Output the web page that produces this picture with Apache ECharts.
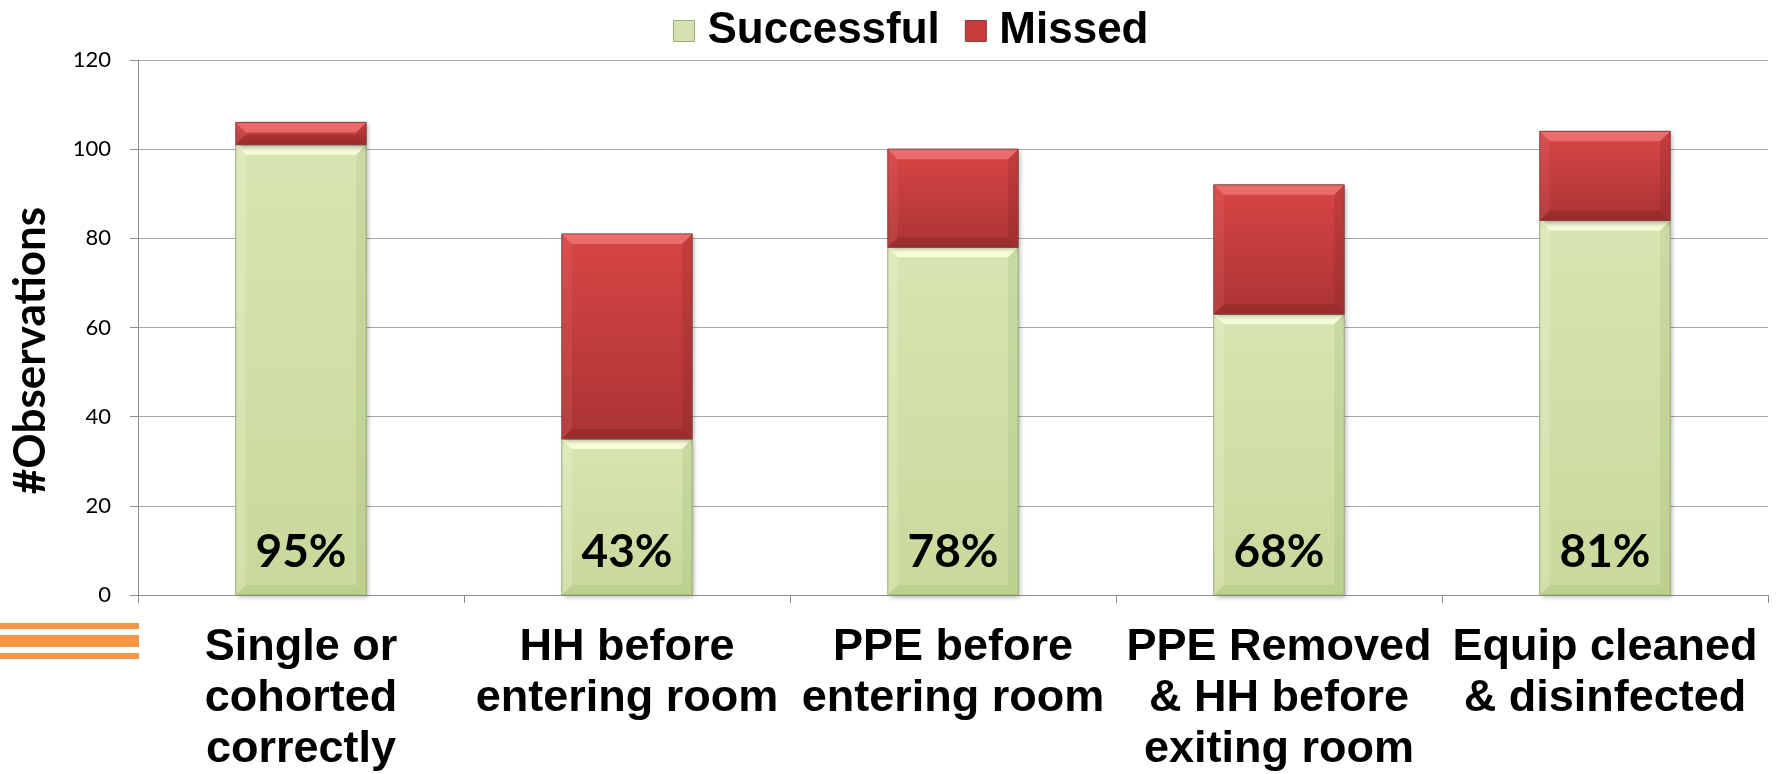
<!DOCTYPE html>
<html>
<head>
<meta charset="utf-8">
<script src="https://cdn.jsdelivr.net/npm/echarts@6/dist/echarts.min.js"></script>
<style>
  html, body { margin: 0; padding: 0; background: #fff; }
  #chart { width: 1777px; height: 774px; }
</style>
</head>
<body>
<div id="chart"></div>
<script>
const categories = [
  'Single or\ncohorted\ncorrectly',
  'HH before\nentering room',
  'PPE before\nentering room',
  'PPE Removed\n& HH before\nexiting room',
  'Equip cleaned\n& disinfected'
]
const successful = [101, 35, 78, 63, 84]
const missed = [5, 46, 22, 29, 20]
const yMin = 0
const yMax = 120
const yStep = 20

const GREEN = {
  body: ['#D7E5B2', '#C8D99B'],
  top: 'rgba(250,255,220,0.9)',
  bottom: 'rgba(150,175,100,0.22)',
  left: 'rgba(255,255,235,0.2)',
  right: 'rgba(140,165,95,0.18)',
  stroke: '#9AAE78'
}
const RED = {
  body: ['#D84545', '#AC3434'],
  top: 'rgba(255,140,140,0.55)',
  bottom: 'rgba(90,20,20,0.22)',
  left: 'rgba(255,150,150,0.12)',
  right: 'rgba(90,20,20,0.15)',
  stroke: '#7E4040'
}

// draws one bevelled bar segment between value(1) and value(2)
const bevelBar = (api, pal, label) => {
  const i = api.value(0)
  const p0 = api.coord([i, api.value(1)])
  const p1 = api.coord([i, api.value(2)])
  const w = api.size([1, 0])[0] * 0.4
  const x0 = p0[0] - w / 2
  const x1 = x0 + w
  const yb = p0[1]
  const yt = p1[1]
  const h = yb - yt
  const b = Math.min(10, h / 2)
  const children = [
    {
      type: 'rect',
      shape: { x: x0, y: yt, width: w, height: h },
      style: {
        fill: new echarts.graphic.LinearGradient(0, 0, 0, 1, [
          { offset: 0, color: pal.body[0] },
          { offset: 1, color: pal.body[1] }
        ]),
        shadowBlur: 5,
        shadowOffsetX: 2,
        shadowOffsetY: 2,
        shadowColor: 'rgba(0,0,0,0.35)'
      }
    },
    { type: 'polygon', shape: { points: [[x0, yt], [x1, yt], [x1 - b, yt + b], [x0 + b, yt + b]] }, style: { fill: pal.top } },
    { type: 'polygon', shape: { points: [[x0, yb], [x1, yb], [x1 - b, yb - b], [x0 + b, yb - b]] }, style: { fill: pal.bottom } },
    { type: 'polygon', shape: { points: [[x0, yt], [x0 + b, yt + b], [x0 + b, yb - b], [x0, yb]] }, style: { fill: pal.left } },
    { type: 'polygon', shape: { points: [[x1, yt], [x1 - b, yt + b], [x1 - b, yb - b], [x1, yb]] }, style: { fill: pal.right } },
    {
      type: 'rect',
      shape: { x: x0, y: yt, width: w, height: h },
      style: { fill: 'none', stroke: pal.stroke, lineWidth: 1 }
    }
  ]
  if (label) {
    children.push({
      type: 'text',
      x: p0[0],
      y: yb - 20,
      style: {
        text: label,
        font: 'bold 46px Lato',
        fill: '#000',
        align: 'center',
        verticalAlign: 'bottom'
      }
    })
  }
  return { type: 'group', children }
}

const pct = successful.map((s, i) => Math.round(s / (s + missed[i]) * 100) + '%')

const chart = echarts.init(document.getElementById('chart'))

const option = {
  animation: false,
  legend: {
    left: 668,
    top: 4,
    itemWidth: 21,
    itemHeight: 21,
    itemGap: 25,
    textStyle: {
      fontFamily: 'Liberation Sans',
      fontWeight: 'bold',
      fontSize: 44,
      color: '#000',
      padding: [0, 0, 0, 8]
    },
    data: [
      { name: 'Successful', icon: 'rect', itemStyle: { color: '#D3E2AE', borderColor: '#9AAE78', borderWidth: 1 } },
      { name: 'Missed', icon: 'rect', itemStyle: { color: '#C83C3C', borderColor: '#7E4040', borderWidth: 1 } }
    ]
  },
  grid: { left: 138, right: 9, top: 60, bottom: 179, containLabel: false, outerBoundsMode: 'none' },
  xAxis: {
    type: 'category',
    data: categories,
    axisLine: { lineStyle: { color: '#8C8C8C', width: 1 } },
    axisTick: { show: true, length: 8, lineStyle: { color: '#8C8C8C' } },
    axisLabel: {
      interval: 0,
      margin: 27,
      color: '#000',
      fontFamily: 'Liberation Sans',
      fontWeight: 'bold',
      fontSize: 45,
      lineHeight: 51
    }
  },
  yAxis: {
    type: 'value',
    min: yMin,
    max: yMax,
    interval: yStep,
    name: '#Observations',
    nameLocation: 'middle',
    nameGap: 85,
    nameTextStyle: {
      fontFamily: 'Lato',
      fontWeight: 'bold',
      fontSize: 44,
      color: '#000',
      padding: [0, 46, 0, 0]
    },
    axisLine: { show: true, lineStyle: { color: '#8C8C8C' } },
    axisTick: { show: true, length: 8, lineStyle: { color: '#8C8C8C' } },
    splitLine: { lineStyle: { color: '#A6A6A6' } },
    axisLabel: { color: '#000', fontFamily: 'Lato', fontSize: 22, margin: 27 }
  },
  graphic: [
    { type: 'rect', left: 0, top: 623, shape: { width: 139, height: 6 }, style: { fill: '#F79646' } },
    { type: 'rect', left: 0, top: 635, shape: { width: 139, height: 12 }, style: { fill: '#F79646' } },
    { type: 'rect', left: 0, top: 653, shape: { width: 139, height: 6 }, style: { fill: '#F79646' } }
  ],
  series: [
    {
      name: 'Successful',
      type: 'custom',
      itemStyle: { color: '#D3E2AE' },
      encode: { x: 0, y: [1, 2] },
      data: successful.map((s, i) => [i, 0, s]),
      renderItem: (params, api) => bevelBar(api, GREEN, pct[params.dataIndex]),
      z: 2
    },
    {
      name: 'Missed',
      type: 'custom',
      itemStyle: { color: '#C83C3C' },
      encode: { x: 0, y: [1, 2] },
      data: successful.map((s, i) => [i, s, s + missed[i]]),
      renderItem: (params, api) => bevelBar(api, RED, null),
      z: 3
    }
  ]
}

chart.setOption(option)
window.addEventListener('resize', () => chart.resize())
</script>
</body>
</html>
